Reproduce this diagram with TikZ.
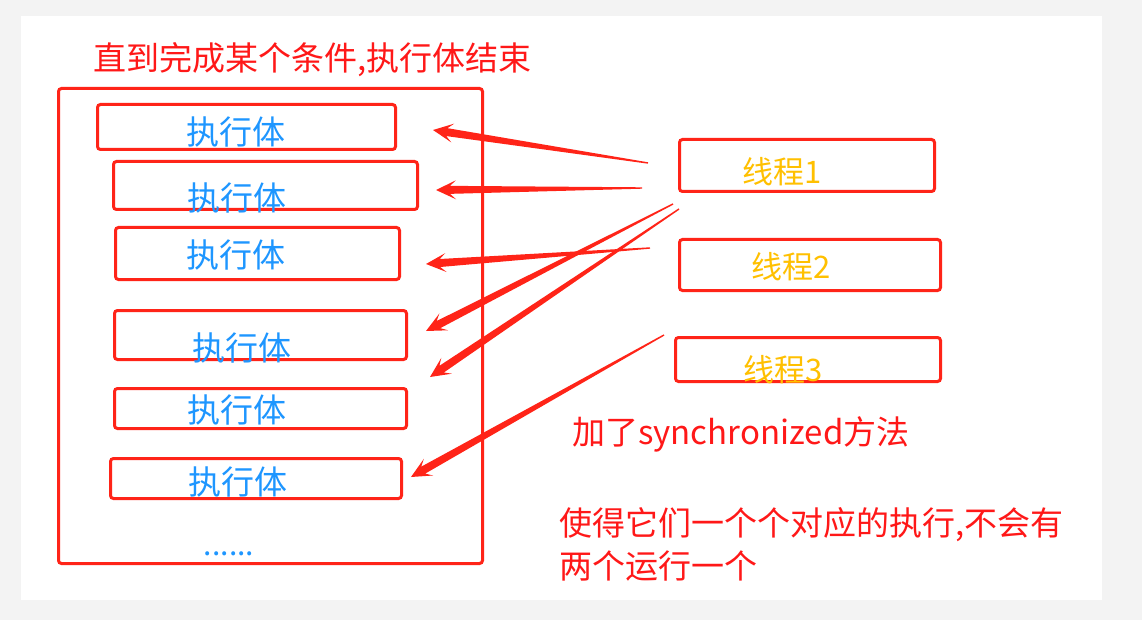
\documentclass[tikz,border=0pt]{standalone}
\usepackage{fontspec}
\newfontfamily\cjk{Noto Sans CJK SC}
\usetikzlibrary{calc}
\definecolor{lred}{RGB}{255,36,24}
\definecolor{tred}{RGB}{255,24,24}
\definecolor{tblue}{RGB}{30,150,255}
\definecolor{torange}{RGB}{255,192,0}
\definecolor{bgray}{RGB}{243,243,243}
\newcommand\taperarrow[2]{%
  \path ($(#2)!14pt!(#1)$) coordinate (nn) ($(#2)!20pt!(#1)$) coordinate (ww);
  \fill[lred] ($(#1)!0.7pt!90:(#2)$) -- ($(nn)!4pt!90:(#2)$) -- ($(ww)!9.5pt!90:(#2)$) -- (#2)
    -- ($(ww)!9.5pt!-90:(#2)$) -- ($(nn)!4pt!-90:(#2)$) -- ($(#1)!0.7pt!-90:(#2)$) -- cycle;}
\begin{document}
\begin{tikzpicture}[x=1pt,y=-1pt,
  box/.style={draw=lred, line width=3pt, rounded corners=3pt, inner sep=0pt},
  exec/.style={font=\cjk\fontsize{33}{33}\selectfont, text=tblue, inner sep=0pt},
  thr/.style={font=\cjk\fontsize{31}{31}\selectfont, text=torange, inner sep=0pt},
  note/.style={font=\cjk\fontsize{33}{33}\selectfont, text=tred, inner sep=0pt, anchor=west}]
\useasboundingbox (0,0) rectangle (1142,620);
\fill[bgray] (0,0) rectangle (1142,620);
\fill[white] (21,16) rectangle (1102,600);

% title
\node[note] (title) at (93,60) {直到完成某个条件,执行体结束};

% outer box
\node[box, minimum width=424, minimum height=475] (outer) at (270.5,326) {};

% execution boxes
\node[box, minimum width=298, minimum height=45] (b1) at (246.5,127) {};
\node[box, minimum width=304, minimum height=48] (b2) at (265.5,185.5) {};
\node[box, minimum width=284, minimum height=52] (b3) at (257.5,253.5) {};
\node[box, minimum width=292, minimum height=49] (b4) at (260.5,335) {};
\node[box, minimum width=292, minimum height=40] (b5) at (260.5,408.5) {};
\node[box, minimum width=291, minimum height=40] (b6) at (256,478.5) {};

\node[exec] (e1) at (236,132) {执行体};
\node[exec] (e2) at (237,198) {执行体};
\node[exec] (e3) at (236,255) {执行体};
\node[exec] (e4) at (242,348) {执行体};
\node[exec] (e5) at (237,410) {执行体};
\node[exec] (e6) at (238,482) {执行体};
\node[exec, anchor=base, font=\cjk\fontsize{30}{30}\selectfont] (dots) at (229,555) {......};

% thread boxes
\node[box, minimum width=255, minimum height=52] (th1) at (807,165.5) {};
\node[box, minimum width=261, minimum height=51] (th2) at (810,265) {};
\node[box, minimum width=265, minimum height=44] (th3) at (808,359.5) {};
\node[thr] (l1) at (782,172) {线程1};
\node[thr] (l2) at (791,267) {线程2};
\node[thr] (l3) at (783,370) {线程3};

% notes
\node[note] (sync) at (572,434) {加了synchronized方法};
\node[note] (p1) at (559,525) {使得它们一个个对应的执行,不会有};
\node[note] (p2) at (559,566) {两个运行一个};

% arrow end points
\coordinate (s1) at (648,163); \coordinate (t1) at (433,130);
\coordinate (s2) at (642,188); \coordinate (t2) at (436,190);
\coordinate (s3) at (650,248); \coordinate (t3) at (426,264);
\coordinate (s4) at (673,204); \coordinate (t4) at (426,331);
\coordinate (s5) at (679,209); \coordinate (t5) at (430,377);
\coordinate (s6) at (664,335); \coordinate (t6) at (411,477);

\taperarrow{s1}{t1}
\taperarrow{s2}{t2}
\taperarrow{s3}{t3}
\taperarrow{s4}{t4}
\taperarrow{s5}{t5}
\taperarrow{s6}{t6}
\end{tikzpicture}
\end{document}
